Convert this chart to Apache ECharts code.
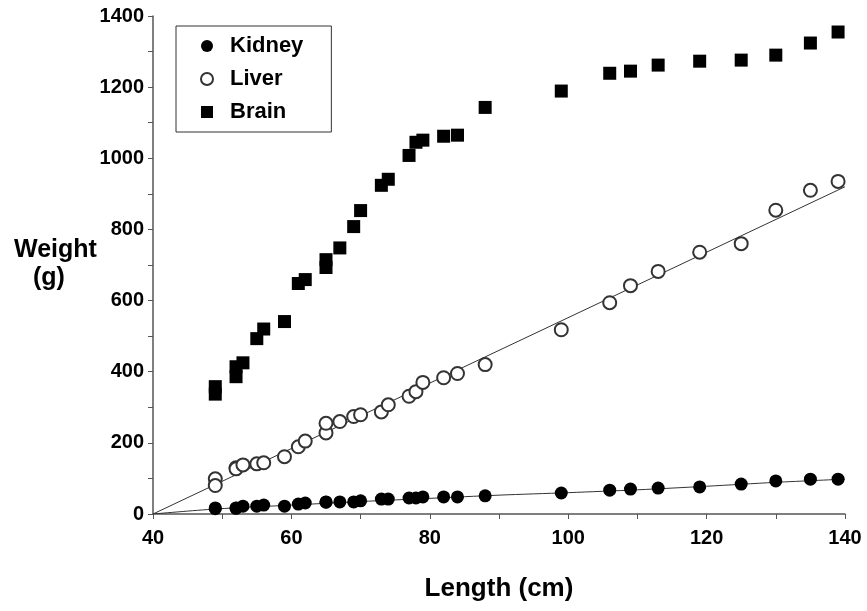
<!DOCTYPE html>
<html>
<head>
<meta charset="utf-8">
<script src="https://cdn.jsdelivr.net/npm/echarts@6/dist/echarts.min.js"></script>
<style>
  html, body { margin: 0; padding: 0; background: #fff; }
  #chart { width: 867px; height: 611px; }
</style>
</head>
<body>
<div id="chart"></div>
<script>
// Body length (cm) of each specimen
const lengthsCm = [49, 49, 52, 52, 53, 55, 56, 59, 61, 62, 65, 65, 67, 69, 70, 73, 74, 77, 78, 79, 82, 84, 88, 99, 106, 109, 113, 119, 125, 130, 135, 139];
// Organ weights (g) for the same specimens
const kidneyG = [17, 15, 17, 16, 22, 22, 25, 22, 28, 31, 34, 33, 34, 34, 37, 42, 42, 45, 45, 48, 48, 48, 51, 59, 67, 70, 73, 76, 84, 93, 98, 98];
const liverG = [99, 80, 130, 127, 138, 141, 144, 161, 189, 205, 228, 255, 260, 274, 279, 287, 307, 331, 344, 370, 383, 395, 420, 518, 594, 642, 682, 736, 760, 854, 910, 935];
const brainG = [358, 337, 414, 386, 425, 493, 520, 541, 648, 659, 715, 693, 748, 808, 853, 924, 941, 1008, 1045, 1051, 1062, 1065, 1143, 1189, 1239, 1245, 1262, 1273, 1276, 1290, 1324, 1355];

// Fitted curves
const liverFitX = [40, 140];
const liverFitY = [0, 920];
const kidneyFitX = [40, 49, 60, 70, 80, 90, 100, 110, 120, 130, 140];
const kidneyFitY = [0, 14, 25, 35, 44, 53, 60, 68, 78, 89, 98];

// Axis ticks
const xTicks = { min: 40, max: 140, step: 10, labelEvery: 20 };
const yTicks = { min: 0, max: 1400, step: 100, labelEvery: 200 };

const pairs = (xs, ys) => xs.map((x, i) => [x, ys[i]]);
const FONT = 'Liberation Sans, Arial, Helvetica, sans-serif';
const AXIS_COLOR = '#555';

const chart = echarts.init(document.getElementById('chart'), null, { renderer: 'canvas' });

chart.setOption({
  backgroundColor: '#fff',
  animation: false,
  grid: { left: 153, right: 22, top: 16, bottom: 97, containLabel: false },
  legend: {
    orient: 'vertical',
    left: 176,
    top: 26,
    data: ['Kidney', 'Liver', 'Brain'],
    borderColor: '#333',
    borderWidth: 1,
    padding: [9, 28, 9, 24],
    itemWidth: 12,
    itemHeight: 12,
    itemGap: 11,
    textStyle: { fontFamily: FONT, fontSize: 22, fontWeight: 'bold', color: '#000', padding: [0, 0, 0, 12] }
  },
  xAxis: {
    type: 'value',
    min: xTicks.min,
    max: xTicks.max,
    interval: xTicks.step,
    name: 'Length (cm)',
    nameLocation: 'middle',
    nameGap: 62,
    nameTextStyle: { fontFamily: FONT, fontSize: 26, fontWeight: 'bold', color: '#000' },
    axisLine: { lineStyle: { color: AXIS_COLOR, width: 1.5 } },
    axisTick: { show: true, length: 5, lineStyle: { color: AXIS_COLOR } },
    axisLabel: {
      margin: 14,
      fontFamily: FONT, fontSize: 20, fontWeight: 'bold', color: '#000',
      formatter: v => (v % xTicks.labelEvery === 0 ? String(v) : '')
    },
    splitLine: { show: false }
  },
  yAxis: {
    type: 'value',
    min: yTicks.min,
    max: yTicks.max,
    interval: yTicks.step,
    axisLine: { show: true, lineStyle: { color: AXIS_COLOR, width: 1.5 } },
    axisTick: { show: true, length: 5, lineStyle: { color: AXIS_COLOR } },
    axisLabel: {
      margin: 9,
      fontFamily: FONT, fontSize: 20, fontWeight: 'bold', color: '#000',
      formatter: v => (v % yTicks.labelEvery === 0 ? String(v) : '')
    },
    splitLine: { show: false }
  },
  graphic: [
    { type: 'text', left: 14, top: 238, style: { text: 'Weight', font: 'bold 25px ' + FONT, fill: '#000' } },
    { type: 'text', left: 33, top: 266, style: { text: '(g)', font: 'bold 25px ' + FONT, fill: '#000' } }
  ],
  series: [
    {
      name: 'Liver fit', type: 'line', data: pairs(liverFitX, liverFitY),
      showSymbol: false, symbol: 'none', silent: true,
      lineStyle: { color: '#333', width: 1 }, z: 1
    },
    {
      name: 'Kidney fit', type: 'line', data: pairs(kidneyFitX, kidneyFitY),
      showSymbol: false, symbol: 'none', smooth: 0.3, silent: true,
      lineStyle: { color: '#333', width: 1 }, z: 1
    },
    {
      name: 'Kidney', type: 'scatter', data: pairs(lengthsCm, kidneyG),
      symbol: 'circle', symbolSize: 13,
      itemStyle: { color: '#000', opacity: 1 }, z: 3
    },
    {
      name: 'Liver', type: 'scatter', data: pairs(lengthsCm, liverG),
      symbol: 'emptyCircle', symbolSize: 13,
      itemStyle: { color: '#333', borderWidth: 1.2, opacity: 1 }, z: 3
    },
    {
      name: 'Brain', type: 'scatter', data: pairs(lengthsCm, brainG),
      symbol: 'rect', symbolSize: 13,
      itemStyle: { color: '#000', opacity: 1 }, z: 3
    }
  ]
});
</script>
</body>
</html>
